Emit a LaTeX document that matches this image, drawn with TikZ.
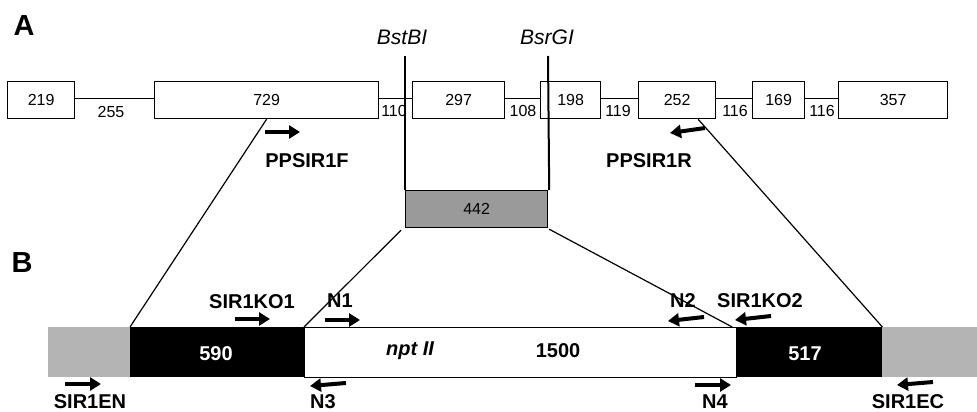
\documentclass[tikz,border=0pt]{standalone}
\usepackage{fontspec}
\setmainfont{Liberation Sans}
\usetikzlibrary{arrows.meta,calc}
\definecolor{fraggray}{RGB}{154,154,154}
\definecolor{flankgray}{RGB}{180,180,180}
\begin{document}
\begin{tikzpicture}[x=1pt,y=-1pt,
  exon/.style={draw,line width=1.2pt,minimum height=37pt,inner sep=0pt,anchor=north west,font=\fontsize{16}{16}\selectfont},
  intron/.style={font=\fontsize{16}{16}\selectfont,inner sep=0pt},
  plain/.style={line width=1.2pt},
  site/.style={line width=2pt},
  sitelbl/.style={font=\fontsize{21}{21}\selectfont\itshape,inner sep=0pt},
  seg/.style={minimum height=50pt,inner sep=0pt,anchor=north west},
  seglbl/.style={font=\fontsize{20}{20}\selectfont\bfseries,inner sep=0pt},
  primer/.style={line width=4pt,-{Triangle[length=11pt,width=13pt]}},
  plbl/.style={font=\fontsize{20}{20}\selectfont\bfseries,inner sep=0pt},
  panel/.style={font=\fontsize{29}{29}\selectfont\bfseries,inner sep=0pt}]
\useasboundingbox (0,0) rectangle (977,412);
% panel labels
\node[panel] (A) at (24,26) {A};
\node[panel] (B) at (22,263) {B};
% exons
\node[exon,minimum width=67pt] (e1) at (7,81) {219};
\node[exon,minimum width=224pt] (e2) at (154,81) {729};
\node[exon,minimum width=92pt] (e3) at (412,81) {297};
\node[exon,minimum width=60pt] (e4) at (540,81) {198};
\node[exon,minimum width=77pt] (e5) at (638,81) {252};
\node[exon,minimum width=52pt] (e6) at (752,81) {169};
\node[exon,minimum width=109pt] (e7) at (838,81) {357};
% introns
\draw[plain] ($(e1.east)+(0,-1.5)$) -- ($(e2.west)+(0,-1.5)$);
\draw[plain] ($(e2.east)+(0,-1.5)$) -- ($(e3.west)+(0,-1.5)$);
\draw[plain] ($(e3.east)+(0,-1.5)$) -- ($(e4.west)+(0,-1.5)$);
\draw[plain] ($(e4.east)+(0,-1.5)$) -- ($(e5.west)+(0,-1.5)$);
\draw[plain] ($(e5.east)+(0,-1.5)$) -- ($(e6.west)+(0,-1.5)$);
\draw[plain] ($(e6.east)+(0,-1.5)$) -- ($(e7.west)+(0,-1.5)$);
\node[intron] (i1) at (111,112) {255};
\node[intron] (i2) at (394,111) {110};
\node[intron] (i3) at (523,111) {108};
\node[intron] (i4) at (618,111) {119};
\node[intron] (i5) at (735,111) {116};
\node[intron] (i6) at (822,111) {116};
% 442 fragment
\node[draw,fill=fraggray,line width=1.2pt,minimum width=142pt,minimum height=37pt,inner sep=0pt,anchor=north west,font=\fontsize{16}{16}\selectfont] (frag) at (405,190) {442};
% restriction sites
\node[sitelbl] (bst) at (402,37) {BstBI};
\node[sitelbl] (bsr) at (547,37) {BsrGI};
\coordinate (bsttop) at (405,56);
\coordinate (bsrtop) at (548,56);
\draw[site] (bsttop) -- (frag.north west);
\draw[site] (bsrtop) -- ($(frag.north east)+(1,0)$);
% B construct
\node[seg,fill=flankgray,minimum width=82pt] (g1) at (48,327) {};
\node[seg,fill=black,minimum width=174pt] (k1) at (130,327) {};
\node[seg,draw,line width=1.2pt,fill=white,minimum width=432pt] (w) at (304,327) {};
\node[seg,fill=black,minimum width=146pt] (k2) at (736,327) {};
\node[seg,fill=flankgray,minimum width=95pt] (g2) at (882,327) {};
\node[seglbl,text=white] (l590) at (216,354) {590};
\node[seglbl,font=\fontsize{20}{20}\selectfont\bfseries\itshape] (lnpt) at (410,351) {npt II};
\node[seglbl] (l1500) at (558,351) {1500};
\node[seglbl,text=white] (l517) at (805,354) {517};
% projection lines
\draw[plain] (e2.south) -- (k1.north west);
\draw[plain] ($(e5.south)+(21,0)$) -- (k2.north east);
\draw[plain] ($(frag.south west)+(-4,2)$) -- (w.north west);
\draw[plain] ($(frag.south east)+(1,1)$) -- ($(w.north east)+(-5,0)$);
% primers
\coordinate (pf1) at (265,132); \coordinate (pf2) at (300,132);
\draw[primer] (pf1) -- (pf2);
\node[plbl] (PF) at (307,161) {PPSIR1F};
\coordinate (pr1) at (705,128); \coordinate (pr2) at (670,133);
\draw[primer] (pr1) -- (pr2);
\node[plbl] (PR) at (649,161) {PPSIR1R};
\coordinate (ko1a) at (235,319); \coordinate (ko1b) at (270,319);
\draw[primer] (ko1a) -- (ko1b);
\node[plbl] (KO1) at (252,302) {SIR1KO1};
\coordinate (n1a) at (325,320); \coordinate (n1b) at (360,320);
\draw[primer] (n1a) -- (n1b);
\node[plbl] (N1) at (340,301) {N1};
\coordinate (n2a) at (704,317); \coordinate (n2b) at (668,321);
\draw[primer] (n2a) -- (n2b);
\node[plbl] (N2) at (683,301) {N2};
\coordinate (ko2a) at (771,316); \coordinate (ko2b) at (735,320);
\draw[primer] (ko2a) -- (ko2b);
\node[plbl] (KO2) at (760,301) {SIR1KO2};
\coordinate (ena) at (65,384); \coordinate (enb) at (101,384);
\draw[primer] (ena) -- (enb);
\node[plbl] (EN) at (90,402) {SIR1EN};
\coordinate (n3a) at (346,383); \coordinate (n3b) at (310,386);
\draw[primer] (n3a) -- (n3b);
\node[plbl] (N3) at (323,402) {N3};
\coordinate (n4a) at (695,385); \coordinate (n4b) at (731,385);
\draw[primer] (n4a) -- (n4b);
\node[plbl] (N4) at (715,402) {N4};
\coordinate (eca) at (933,382); \coordinate (ecb) at (897,385);
\draw[primer] (eca) -- (ecb);
\node[plbl] (EC) at (908,402) {SIR1EC};
\end{tikzpicture}
\end{document}
